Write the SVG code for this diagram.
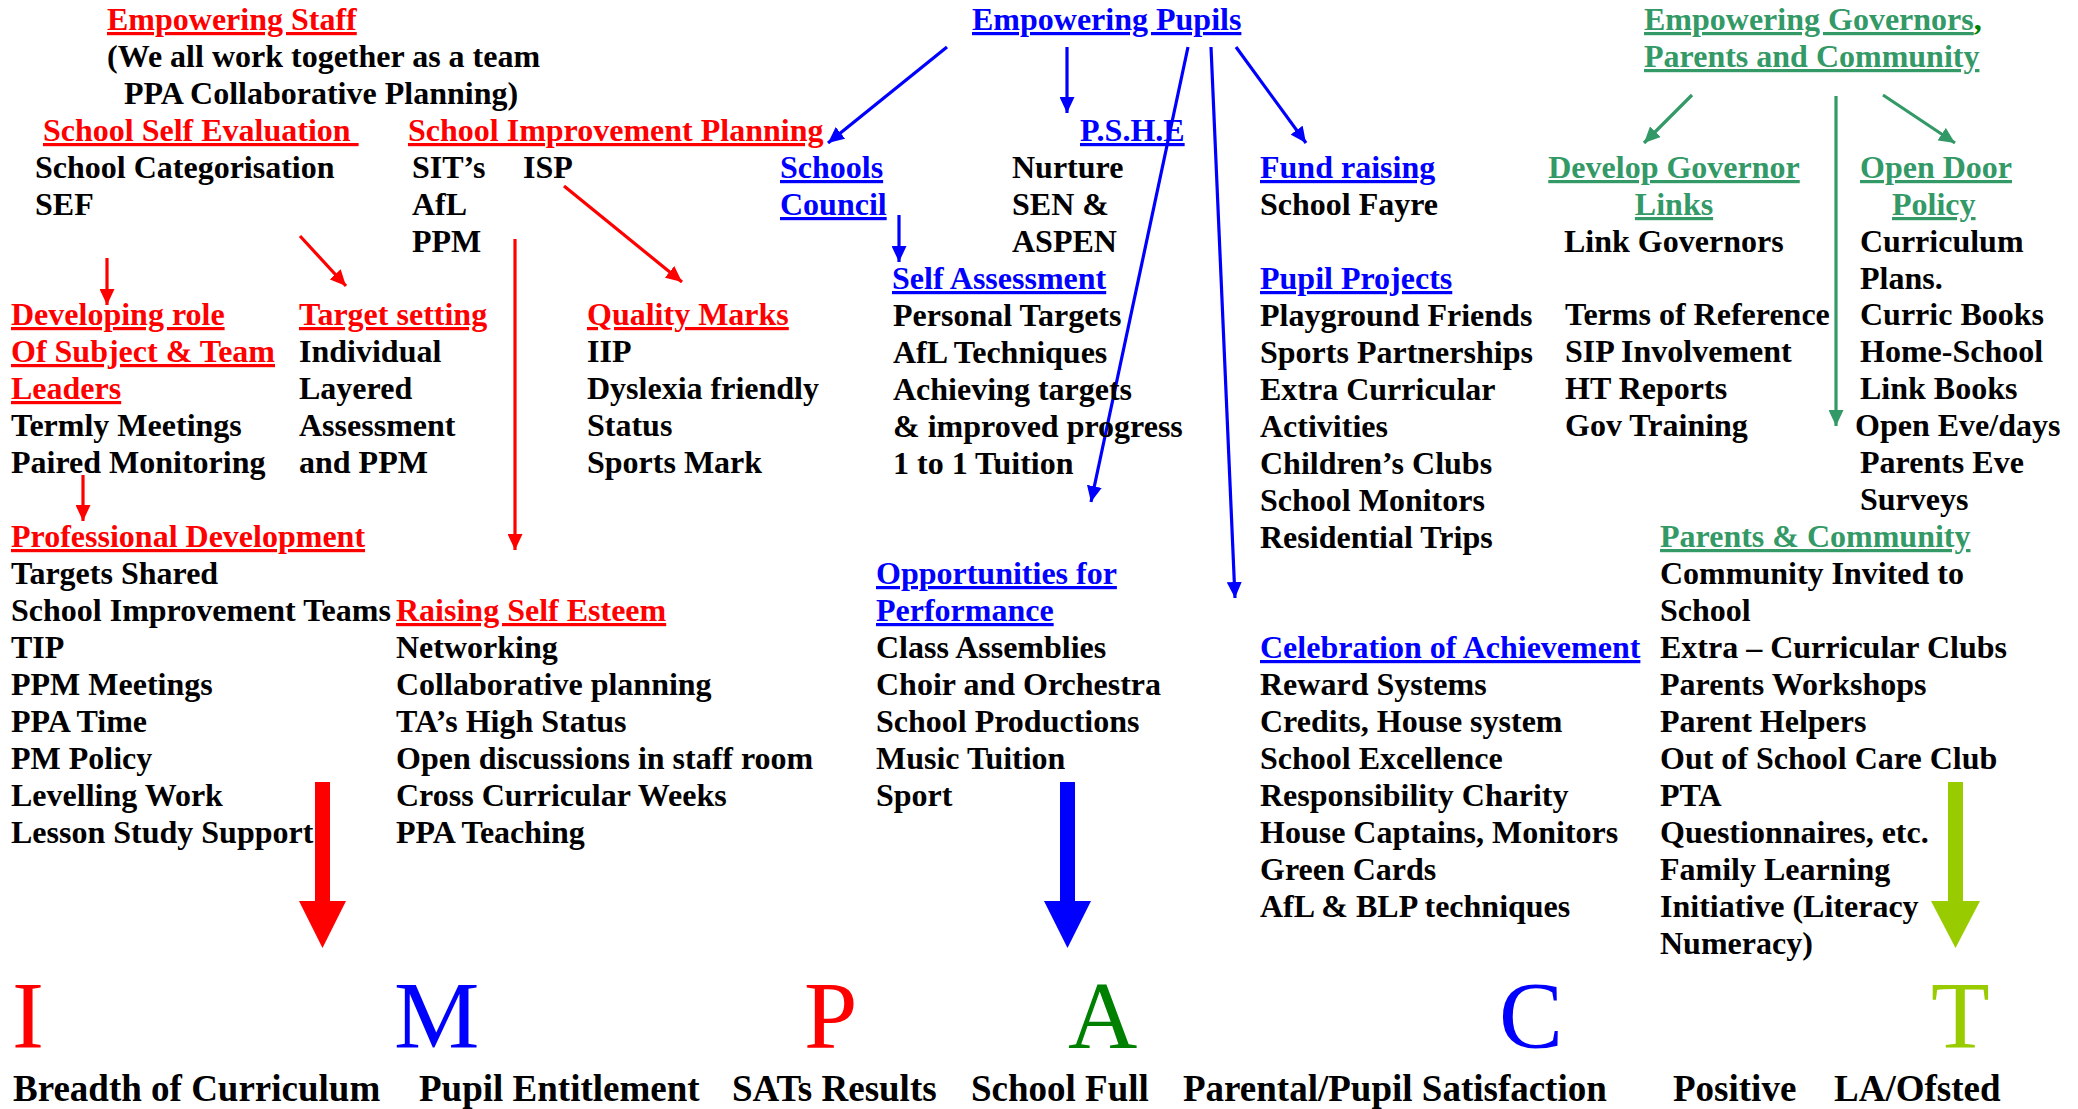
<svg xmlns="http://www.w3.org/2000/svg" width="2078" height="1109" viewBox="0 0 2078 1109">
<style>
text{font-family:"Liberation Serif","Times New Roman",serif;font-weight:bold;font-size:32px;fill:#000}
.r{fill:#ff0000}.b{fill:#0000ff}.g{fill:#339966}.dg{fill:#008000}
.u{text-decoration:underline;text-decoration-thickness:3.5px;text-underline-offset:4px}
.big{font-weight:normal;font-size:96px}
.lab{font-size:37px}
.cr{stroke:#ff0000;stroke-width:3.2;fill:none}
.cb{stroke:#0000ff;stroke-width:3.2;fill:none}
.cg{stroke:#339966;stroke-width:3.2;fill:none}
</style>
<defs>
<marker id="ar" markerUnits="userSpaceOnUse" markerWidth="16" markerHeight="15" refX="16" refY="7.5" orient="auto"><path d="M0,0 L16,7.5 L0,15 z" fill="#ff0000"/></marker>
<marker id="ab" markerUnits="userSpaceOnUse" markerWidth="16" markerHeight="15" refX="16" refY="7.5" orient="auto"><path d="M0,0 L16,7.5 L0,15 z" fill="#0000ff"/></marker>
<marker id="ag" markerUnits="userSpaceOnUse" markerWidth="16" markerHeight="15" refX="16" refY="7.5" orient="auto"><path d="M0,0 L16,7.5 L0,15 z" fill="#339966"/></marker>
</defs>
<rect width="2078" height="1109" fill="#fff"/>

<g id="connectors">
<path class="cr" d="M107,258 L107,305" marker-end="url(#ar)"/>
<path class="cr" d="M300,236 L346,286" marker-end="url(#ar)"/>
<path class="cr" d="M515,239 L515,550" marker-end="url(#ar)"/>
<path class="cr" d="M564,186 L682,282" marker-end="url(#ar)"/>
<path class="cr" d="M83,475 L83,521" marker-end="url(#ar)"/>
<path class="cb" d="M947,47 L828,143" marker-end="url(#ab)"/>
<path class="cb" d="M1067,47 L1067,113" marker-end="url(#ab)"/>
<path class="cb" d="M1188,47 L1091,502" marker-end="url(#ab)"/>
<path class="cb" d="M1211,47 L1235,598" marker-end="url(#ab)"/>
<path class="cb" d="M1236,47 L1306,143" marker-end="url(#ab)"/>
<path class="cb" d="M899,215 L899,262" marker-end="url(#ab)"/>
<path class="cg" d="M1692,95 L1644,143" marker-end="url(#ag)"/>
<path class="cg" d="M1836,96 L1836,426" marker-end="url(#ag)"/>
<path class="cg" d="M1883,95 L1955,143" marker-end="url(#ag)"/>
<path d="M315,782 L330,782 L330,901 L346,901 L322.5,948 L299,901 L315,901 Z" fill="#ff0000"/>
<path d="M1060,782 L1075,782 L1075,901 L1091,901 L1067.5,948 L1044,901 L1060,901 Z" fill="#0000ff"/>
<path d="M1948,782 L1963,782 L1963,901 L1980,901 L1955.5,948 L1931,901 L1948,901 Z" fill="#99cc00"/>
</g>

<g id="empowering-staff">
<text x="107" y="30" class="r u">Empowering Staff</text>
<text x="107" y="67">(We all work together as a team</text>
<text x="124" y="104">PPA Collaborative Planning)</text>
</g>
<g id="school-self-evaluation">
<text x="43" y="141" class="r u" xml:space="preserve">School Self Evaluation </text>
<text x="35" y="178">School Categorisation</text>
<text x="35" y="215">SEF</text>
</g>
<g id="school-improvement-planning">
<text x="408" y="141" class="r u">School Improvement Planning</text>
<text x="412" y="178">SIT’s</text>
<text x="523" y="178">ISP</text>
<text x="412" y="215">AfL</text>
<text x="412" y="252">PPM</text>
</g>
<g id="developing-role">
<text x="11" y="325" class="r u">Developing role</text>
<text x="11" y="362" class="r u">Of Subject &amp; Team</text>
<text x="11" y="399" class="r u">Leaders</text>
<text x="11" y="436">Termly Meetings</text>
<text x="11" y="473">Paired Monitoring</text>
</g>
<g id="target-setting">
<text x="299" y="325" class="r u">Target setting</text>
<text x="299" y="362">Individual</text>
<text x="299" y="399">Layered</text>
<text x="299" y="436">Assessment</text>
<text x="299" y="473">and PPM</text>
</g>
<g id="quality-marks">
<text x="587" y="325" class="r u">Quality Marks</text>
<text x="587" y="362">IIP</text>
<text x="587" y="399">Dyslexia friendly</text>
<text x="587" y="436">Status</text>
<text x="587" y="473">Sports Mark</text>
</g>
<g id="professional-development">
<text x="11" y="547" class="r u">Professional Development</text>
<text x="11" y="584">Targets Shared</text>
<text x="11" y="621">School Improvement Teams</text>
<text x="11" y="658">TIP</text>
<text x="11" y="695">PPM Meetings</text>
<text x="11" y="732">PPA Time</text>
<text x="11" y="769">PM Policy</text>
<text x="11" y="806">Levelling Work</text>
<text x="11" y="843">Lesson Study Support</text>
</g>
<g id="raising-self-esteem">
<text x="396" y="621" class="r u">Raising Self Esteem</text>
<text x="396" y="658">Networking</text>
<text x="396" y="695">Collaborative planning</text>
<text x="396" y="732">TA’s High Status</text>
<text x="396" y="769">Open discussions in staff room</text>
<text x="396" y="806">Cross Curricular Weeks</text>
<text x="396" y="843">PPA Teaching</text>
</g>

<g id="empowering-pupils">
<text x="972" y="30" class="b u">Empowering Pupils</text>
</g>
<g id="schools-council">
<text x="780" y="178" class="b u">Schools</text>
<text x="780" y="215" class="b u">Council</text>
</g>
<g id="pshe">
<text x="1080" y="141" class="b u">P.S.H.E</text>
<text x="1012" y="178">Nurture</text>
<text x="1012" y="215">SEN &amp;</text>
<text x="1012" y="252">ASPEN</text>
</g>
<g id="fund-raising">
<text x="1260" y="178" class="b u">Fund raising</text>
<text x="1260" y="215">School Fayre</text>
</g>
<g id="self-assessment">
<text x="892" y="289" class="b u">Self Assessment</text>
<text x="893" y="326">Personal Targets</text>
<text x="893" y="363">AfL Techniques</text>
<text x="893" y="400">Achieving targets</text>
<text x="893" y="437">&amp; improved progress</text>
<text x="893" y="474">1 to 1 Tuition</text>
</g>
<g id="pupil-projects">
<text x="1260" y="289" class="b u">Pupil Projects</text>
<text x="1260" y="326">Playground Friends</text>
<text x="1260" y="363">Sports Partnerships</text>
<text x="1260" y="400">Extra Curricular</text>
<text x="1260" y="437">Activities</text>
<text x="1260" y="474">Children’s Clubs</text>
<text x="1260" y="511">School Monitors</text>
<text x="1260" y="548">Residential Trips</text>
</g>
<g id="opportunities-for-performance">
<text x="876" y="584" class="b u">Opportunities for</text>
<text x="876" y="621" class="b u">Performance</text>
<text x="876" y="658">Class Assemblies</text>
<text x="876" y="695">Choir and Orchestra</text>
<text x="876" y="732">School Productions</text>
<text x="876" y="769">Music Tuition</text>
<text x="876" y="806">Sport</text>
</g>
<g id="celebration-of-achievement">
<text x="1260" y="658" class="b u">Celebration of Achievement</text>
<text x="1260" y="695">Reward Systems</text>
<text x="1260" y="732">Credits, House system</text>
<text x="1260" y="769">School Excellence</text>
<text x="1260" y="806">Responsibility Charity</text>
<text x="1260" y="843">House Captains, Monitors</text>
<text x="1260" y="880">Green Cards</text>
<text x="1260" y="917">AfL &amp; BLP techniques</text>
</g>

<g id="empowering-governors">
<text x="1644" y="30" class="g u">Empowering Governors<tspan class="dg">,</tspan></text>
<text x="1644" y="67" class="g u">Parents and Community</text>
</g>
<g id="develop-governor-links">
<text x="1674" y="178" class="g u" text-anchor="middle">Develop Governor</text>
<text x="1674" y="215" class="g u" text-anchor="middle">Links</text>
<text x="1564" y="252">Link Governors</text>
<text x="1565" y="325">Terms of Reference</text>
<text x="1565" y="362">SIP Involvement</text>
<text x="1565" y="399">HT Reports</text>
<text x="1565" y="436">Gov Training</text>
</g>
<g id="open-door-policy">
<text x="1860" y="178" class="g u">Open Door</text>
<text x="1892" y="215" class="g u">Policy</text>
<text x="1860" y="252">Curriculum</text>
<text x="1860" y="289">Plans.</text>
<text x="1860" y="325">Curric Books</text>
<text x="1860" y="362">Home-School</text>
<text x="1860" y="399">Link Books</text>
<text x="1855" y="436">Open Eve/days</text>
<text x="1860" y="473">Parents Eve</text>
<text x="1860" y="510">Surveys</text>
</g>
<g id="parents-community">
<text x="1660" y="547" class="g u">Parents &amp; Community</text>
<text x="1660" y="584">Community Invited to</text>
<text x="1660" y="621">School</text>
<text x="1660" y="658">Extra – Curricular Clubs</text>
<text x="1660" y="695">Parents Workshops</text>
<text x="1660" y="732">Parent Helpers</text>
<text x="1660" y="769">Out of School Care Club</text>
<text x="1660" y="806">PTA</text>
<text x="1660" y="843">Questionnaires, etc.</text>
<text x="1660" y="880">Family Learning</text>
<text x="1660" y="917">Initiative (Literacy</text>
<text x="1660" y="954">Numeracy)</text>
</g>

<g id="impact">
<text x="12" y="1048" class="big r">I</text>
<text x="394" y="1048" class="big b">M</text>
<text x="804" y="1048" class="big r">P</text>
<text x="1068" y="1048" class="big dg">A</text>
<text x="1499" y="1048" class="big b">C</text>
<text x="1931" y="1048" class="big" style="fill:#99cc00">T</text>
</g>
<g id="impact-labels">
<text x="13" y="1101" class="lab">Breadth of Curriculum</text>
<text x="419" y="1101" class="lab">Pupil Entitlement</text>
<text x="732" y="1101" class="lab">SATs Results</text>
<text x="971" y="1101" class="lab">School Full</text>
<text x="1183" y="1101" class="lab">Parental/Pupil Satisfaction</text>
<text x="1673" y="1101" class="lab">Positive</text>
<text x="1834" y="1101" class="lab">LA/Ofsted</text>
</g>
</svg>
